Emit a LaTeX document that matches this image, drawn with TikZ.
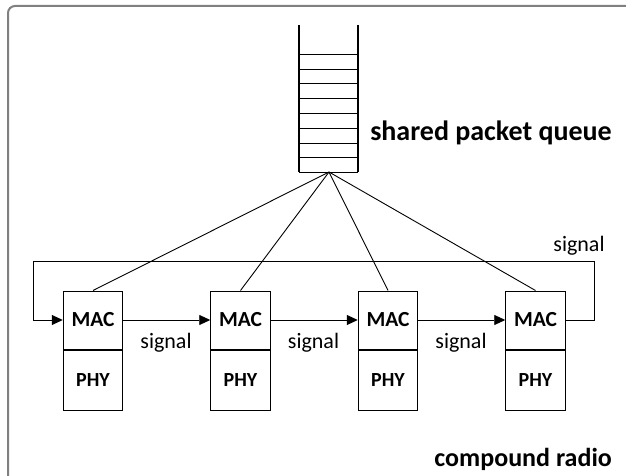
\documentclass[tikz,border=0pt]{standalone}
\usepackage{fontspec}
\setmainfont{Carlito}
\usetikzlibrary{arrows.meta}
\begin{document}
\begin{tikzpicture}[x=1pt,y=-1pt,
  macbox/.style={draw,line width=1pt,minimum width=59.5pt,minimum height=58pt,inner sep=0pt,font=\fontsize{21.5}{23}\selectfont\bfseries},
  phybox/.style={draw,line width=1pt,minimum width=59.5pt,minimum height=60pt,inner sep=0pt,font=\fontsize{20}{22}\selectfont\bfseries},
  conn/.style={line width=0.9pt},
  arr/.style={conn,-{Triangle[length=11pt,width=10pt]}},
  sig/.style={font=\fontsize{22}{24}\selectfont,anchor=base,inner sep=0pt},
  title/.style={font=\fontsize{27}{29}\selectfont\bfseries,anchor=base east,inner sep=0pt},
  qside/.style={line width=2.2pt},
  qrung/.style={line width=1.1pt}]
\useasboundingbox (0,0) rectangle (626,476);
\begin{scope}
\clip (0,0) rectangle (626,476);
\draw[line width=2pt,color=gray,rounded corners=7pt] (8,6) rectangle (660,510);
\end{scope}
% queue
\draw[qside] (299,25) -- (299,172);
\draw[qside] (358,25) -- (358,172);
\foreach \yy in {54.3,69.1,83.9,98.7,113.5,128.3,143.1,157.9,172.3}
  \draw[qrung] (299,\yy) -- (358,\yy);
\coordinate (apex) at (329,172);
\node[title,font=\fontsize{28}{30}\selectfont\bfseries] (sq) at (612,140) {shared packet queue};
% boxes
\foreach \i/\xx in {1/93,2/240.5,3/388,4/535.5}{
  \node[macbox] (mac\i) at (\xx,320) {MAC};
  \node[phybox,anchor=north] (phy\i) at (mac\i.south) {PHY};
  \draw[conn] (apex) -- (mac\i.north);
}
\draw[arr] (mac1.east) -- (mac2.west);
\draw[arr] (mac2.east) -- (mac3.west);
\draw[arr] (mac3.east) -- (mac4.west);
\node[sig] (s1) at (166,348.5) {signal};
\node[sig] (s2) at (313.5,348.5) {signal};
\node[sig] (s3) at (461,348.5) {signal};
\coordinate (fr) at (594,261);
\coordinate (fl) at (33,261);
\draw[arr] (mac4.east) -| (fr) -- (fl) |- (mac1.west);
\node[sig] (s4) at (579,251) {signal};
\node[title,font=\fontsize{26}{28}\selectfont\bfseries] (cr) at (612,466.5) {compound radio};
\end{tikzpicture}
\end{document}
